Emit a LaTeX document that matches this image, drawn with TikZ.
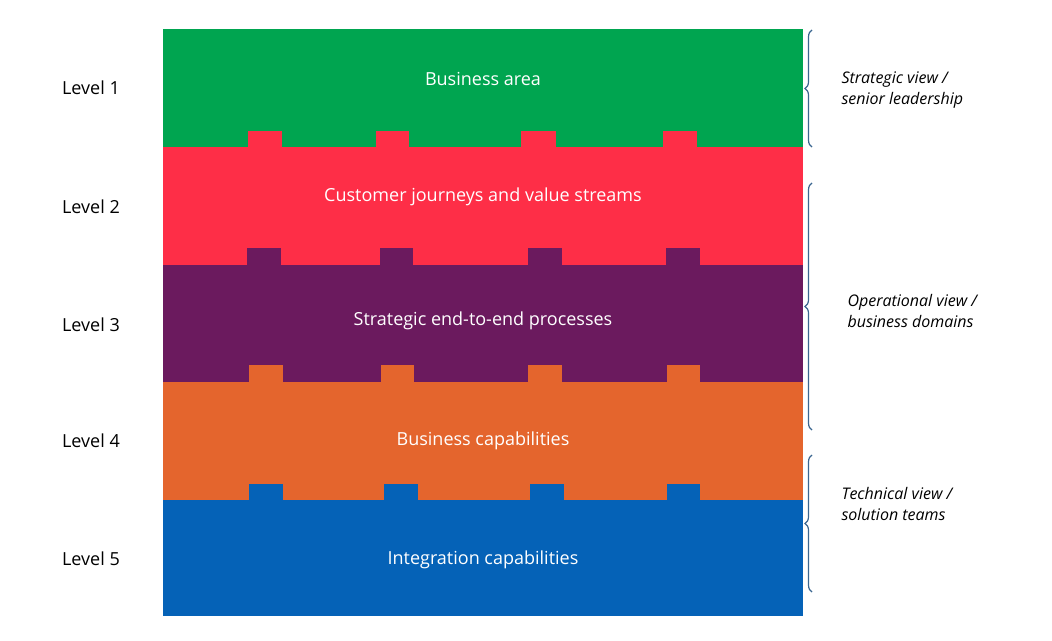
\documentclass[tikz,border=0pt]{standalone}
\usepackage{fontspec}
\setmainfont{Open Sans}
\usetikzlibrary{decorations.pathreplacing}
\definecolor{lgreen}{HTML}{00A550}
\definecolor{lred}{HTML}{FE2E47}
\definecolor{lpurple}{HTML}{6B1A5E}
\definecolor{lorange}{HTML}{E4652D}
\definecolor{lblue}{HTML}{0562B7}
\definecolor{lbrace}{HTML}{3A6690}
\begin{document}
\begin{tikzpicture}[x=1pt,y=-1pt,
  band/.style={text=white,font=\fontsize{18}{20}\selectfont},
  lvl/.style={font=\fontsize{18}{20}\selectfont},
  view/.style={font=\fontsize{16}{21}\selectfont\itshape,align=left,anchor=west},
  brc/.style={draw=lbrace,line width=1.2pt,decorate,decoration={brace,amplitude=7pt,mirror}}]
\useasboundingbox (0,0) rectangle (1052,640);
% bands
\fill[lgreen]  (163,29)  rectangle (803,147);
\fill[lred]    (163,147) rectangle (803,265);
\fill[lpurple] (163,265) rectangle (803,382);
\fill[lorange] (163,382) rectangle (803,500);
\fill[lblue]   (163,500) rectangle (803,616);
% tabs
\foreach \a/\b in {248/282,376/409,521/556,663/697} \fill[lred] (\a,131) rectangle (\b,148);
\foreach \a/\b in {247/281,380/413,528/562,666/700} \fill[lpurple] (\a,248) rectangle (\b,266);
\foreach \a/\b in {249/283,381/414,528/562,667/700} \fill[lorange] (\a,365) rectangle (\b,383);
\foreach \a/\b in {249/283,384/418,530/564,667/700} \fill[lblue] (\a,484) rectangle (\b,501);
% band labels
\node[band] (area) at (483,79)  {Business area};
\node[band] (jour) at (483,197) {Customer journeys and value streams};
\node[band] (proc) at (483,321) {Strategic end-to-end processes};
\node[band] (bcap) at (483,441) {Business capabilities};
\node[band] (icap) at (483,560) {Integration capabilities};
% levels
\node[lvl] (l1) at (91,88)  {Level 1};
\node[lvl] (l2) at (91,207) {Level 2};
\node[lvl] (l3) at (91,325) {Level 3};
\node[lvl] (l4) at (91,441) {Level 4};
\node[lvl] (l5) at (91,559) {Level 5};
% braces
\coordinate (b1t) at (812,30);  \coordinate (b1b) at (812,147);
\coordinate (b2t) at (812,183); \coordinate (b2b) at (812,430);
\coordinate (b3t) at (812,455); \coordinate (b3b) at (812,592);
\draw[brc] (b1t) -- (b1b);
\draw[brc] (b2t) -- (b2b);
\draw[brc] (b3t) -- (b3b);
\node[view] (v1) at (838,90)  {Strategic view /\\senior leadership};
\node[view] (v2) at (844,311) {Operational view /\\business domains};
\node[view] (v3) at (838,504) {Technical view /\\solution teams};
\end{tikzpicture}
\end{document}
